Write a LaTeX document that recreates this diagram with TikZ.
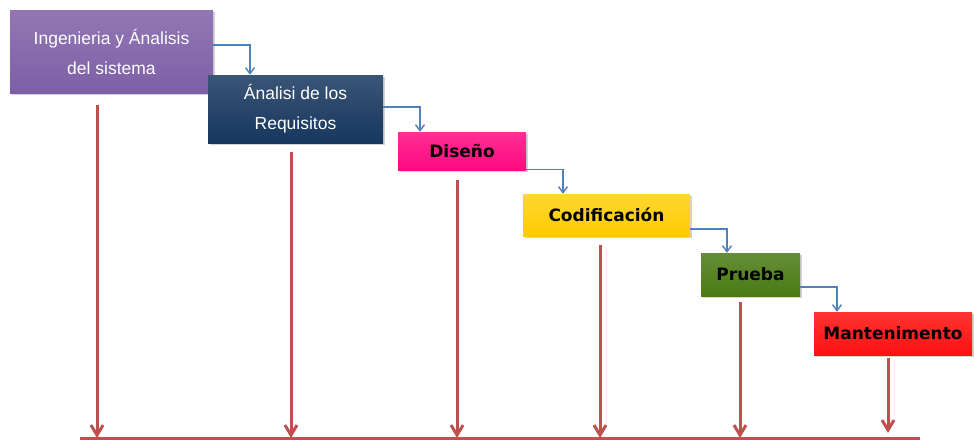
\documentclass[tikz,border=0pt]{standalone}
\usepackage{fontspec}
\setmainfont{Liberation Sans}
\newfontfamily\boldface{DejaVu Sans}
\usetikzlibrary{arrows.meta,shadows}
\definecolor{flowblue}{HTML}{4F81BD}
\definecolor{timered}{HTML}{C0504D}
\definecolor{cpurple}{HTML}{7E5FA6}
\definecolor{cnavy}{HTML}{17375E}
\definecolor{cmagenta}{HTML}{FF0A80}
\definecolor{cyellow}{HTML}{FFCC00}
\definecolor{cgreen}{HTML}{4A7A14}
\definecolor{cred}{HTML}{FF1010}
\tikzset{
  phase/.style={rectangle, inner sep=0pt, align=center,
    drop shadow={opacity=0.35, shadow xshift=1.5pt, shadow yshift=-1.5pt}},
  lighttext/.style={text=white, font=\fontsize{17.5}{30}\selectfont},
  darktext/.style={text=black, font=\boldface\bfseries\fontsize{17}{20}\selectfont},
  flow/.style={draw=flowblue, line width=1.4pt, -{Straight Barb[length=6pt,width=9pt]}},
  drop/.style={draw=timered, line width=3pt, -{Straight Barb[length=10pt,width=12pt]}},
}
\begin{document}
\begin{tikzpicture}[x=1pt,y=-1pt]
\useasboundingbox (0,0) rectangle (974,442);

% phase boxes
\node[phase, lighttext, top color=cpurple!85!white, bottom color=cpurple,
  minimum width=203pt, minimum height=83pt] (b1) at (111.5,51.5)
  {Ingenieria y Ánalisis\\del sistema};
\node[phase, lighttext, top color=cnavy!85!white, bottom color=cnavy,
  minimum width=175pt, minimum height=68pt] (b2) at (295.5,109)
  {Ánalisi de los\\Requisitos};
\node[phase, darktext, top color=cmagenta!85!white, bottom color=cmagenta,
  minimum width=128pt, minimum height=38pt] (b3) at (462,151) {Diseño};
\node[phase, darktext, top color=cyellow!80!white, bottom color=cyellow,
  minimum width=167pt, minimum height=42pt] (b4) at (606.5,215) {Codificación};
\node[phase, darktext, top color=cgreen!85!white, bottom color=cgreen,
  minimum width=99pt, minimum height=43pt] (b5) at (750.5,274.5) {Prueba};
\node[phase, darktext, top color=cred!85!white, bottom color=cred,
  minimum width=158pt, minimum height=43pt] (b6) at (893,333.5) {Mantenimento};

% step connectors
\draw[flow] ([yshift=6.5pt]b1.east) -| ([xshift=-45.5pt]b2.north);
\draw[flow] ([yshift=2pt]b2.east) -| ([xshift=-42pt]b3.north);
\draw[flow] ([yshift=1pt]b3.south east) -| ([xshift=-43.5pt]b4.north);
\draw[flow] ([yshift=-14pt]b4.east) -| ([xshift=-23.5pt]b5.north);
\draw[flow] ([yshift=-12.5pt]b5.east) -| ([xshift=-56pt]b6.north);

% time line
\coordinate (bl) at (80,438);
\coordinate (br) at (920,438);
\draw[draw=timered, line width=3pt] (bl) -- (br);

\coordinate (s1) at (97,105);
\coordinate (s2) at (291,152);
\coordinate (s3) at (457,180);
\coordinate (s4) at (600,245);
\coordinate (s5) at (740,302);
\coordinate (s6) at (888,358);
\foreach \s in {s1,s2,s3,s4,s5}
  \draw[drop] (\s) -- (\s |- bl);
\draw[drop] (s6) -- ([yshift=5pt]s6 |- bl);
\end{tikzpicture}
\end{document}
